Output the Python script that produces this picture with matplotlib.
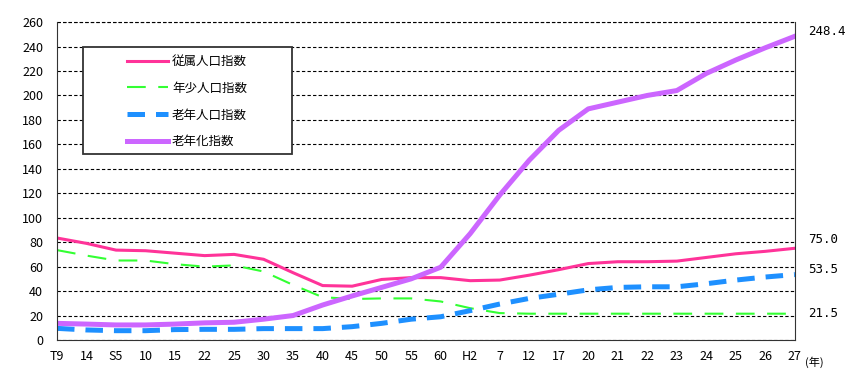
import numpy as np
from matplotlib import pyplot as plt
from matplotlib.patches import Rectangle

plt.rcParams['font.family'] = ['Noto Sans CJK JP', 'DejaVu Sans']

years = ["T9", "14", "S5", "10", "15", "22", "25", "30", "35", "40", "45", "50", "55",
         "60", "H2", "7", "12", "17", "20", "21", "22", "23", "24", "25", "26", "27"]

dependency = [83.4, 79, 73.5, 73, 71, 69, 70, 66, 55, 44.5, 44, 49.5, 51, 51,
              48.5, 49, 53, 57.5, 62.5, 64, 64, 64.5, 67.5, 70.5, 72.5, 75.0]
young = [73.5, 69, 65, 65, 62, 60, 61, 56, 45, 35, 33.5, 34, 34, 31.5,
         26, 22, 21.5, 21.5, 21.5, 21.5, 21.5, 21.5, 21.5, 21.5, 21.5, 21.5]
elderly = [9.5, 8.2, 7.6, 7.6, 8.5, 8.7, 8.7, 9.3, 9.3, 9.3, 10.9, 13.6, 17, 19,
           24, 29.4, 34, 37.4, 41, 43, 43.5, 43.5, 46, 49, 51.5, 53.5]
aging = [13.6, 13, 12.3, 12.3, 13, 14, 14.5, 17, 20, 28.6, 36, 43, 50, 59.5,
         87, 118.5, 147, 171.5, 189, 194.5, 200, 204, 218, 229, 239, 248.4]

labels = ["従属人口指数", "年少人口指数", "老年人口指数", "老年化指数"]
end_labels = ["75.0", "21.5", "53.5", "248.4"]

fig = plt.figure(figsize=(8.61, 3.92), dpi=100)
ax = fig.add_axes([0.0662, 0.1327, 0.857, 0.811])

x = np.arange(len(years))
ax.plot(x, dependency, color="#ff3399", lw=2.2, label=labels[0])
ax.plot(x, young, color="#33ff33", lw=1.5, dashes=(9, 6), label=labels[1])
ax.plot(x, elderly, color="#1e90ff", lw=3.6, dashes=(3.5, 2.2), label=labels[2])
ax.plot(x, aging, color="#cc66ff", lw=3.6, label=labels[3])

ax.set_xlim(0, len(years) - 1)
ax.set_ylim(0, 260)
ax.set_yticks(np.arange(0, 261, 20))
ax.set_xticks(x)
ax.set_xticklabels(years)
ax.tick_params(length=0, labelsize=9, pad=7)
ax.tick_params(axis="y", pad=10)
ax.yaxis.grid(True, color="black", ls=(0, (3, 2)), lw=0.8)
ax.set_axisbelow(True)
ax.spines["top"].set_visible(False)
for s in ["left", "bottom", "right"]:
    ax.spines[s].set_color("#333333")
ax.axhline(260, color="black", ls=(0, (3, 2)), lw=0.8, clip_on=False)

# values at the right end
ypos = {"248.4": 252, "75.0": 82, "53.5": 58, "21.5": 22}
for t in end_labels:
    ax.text(len(years) - 1 + 0.45, ypos[t], t, family="DejaVu Sans Mono",
            fontsize=9, va="center", ha="left")
ax.text(len(years) - 1 + 0.35, -18, "(年)", fontsize=8, va="center", ha="left")

# legend frame drawn separately (wide left margin like the original)
ax.add_patch(Rectangle((0.035, 0.585), 0.283, 0.336, transform=ax.transAxes,
                       facecolor="white", edgecolor="#333333", lw=1.3, zorder=5))
leg = ax.legend(loc="upper left", bbox_to_anchor=(0.088, 0.912), fontsize=9,
                frameon=False, handlelength=3.3, labelspacing=1.1,
                borderpad=0.4, borderaxespad=0, handletextpad=0.3)
leg.set_zorder(6)

fig.savefig("out.png", dpi=100)
